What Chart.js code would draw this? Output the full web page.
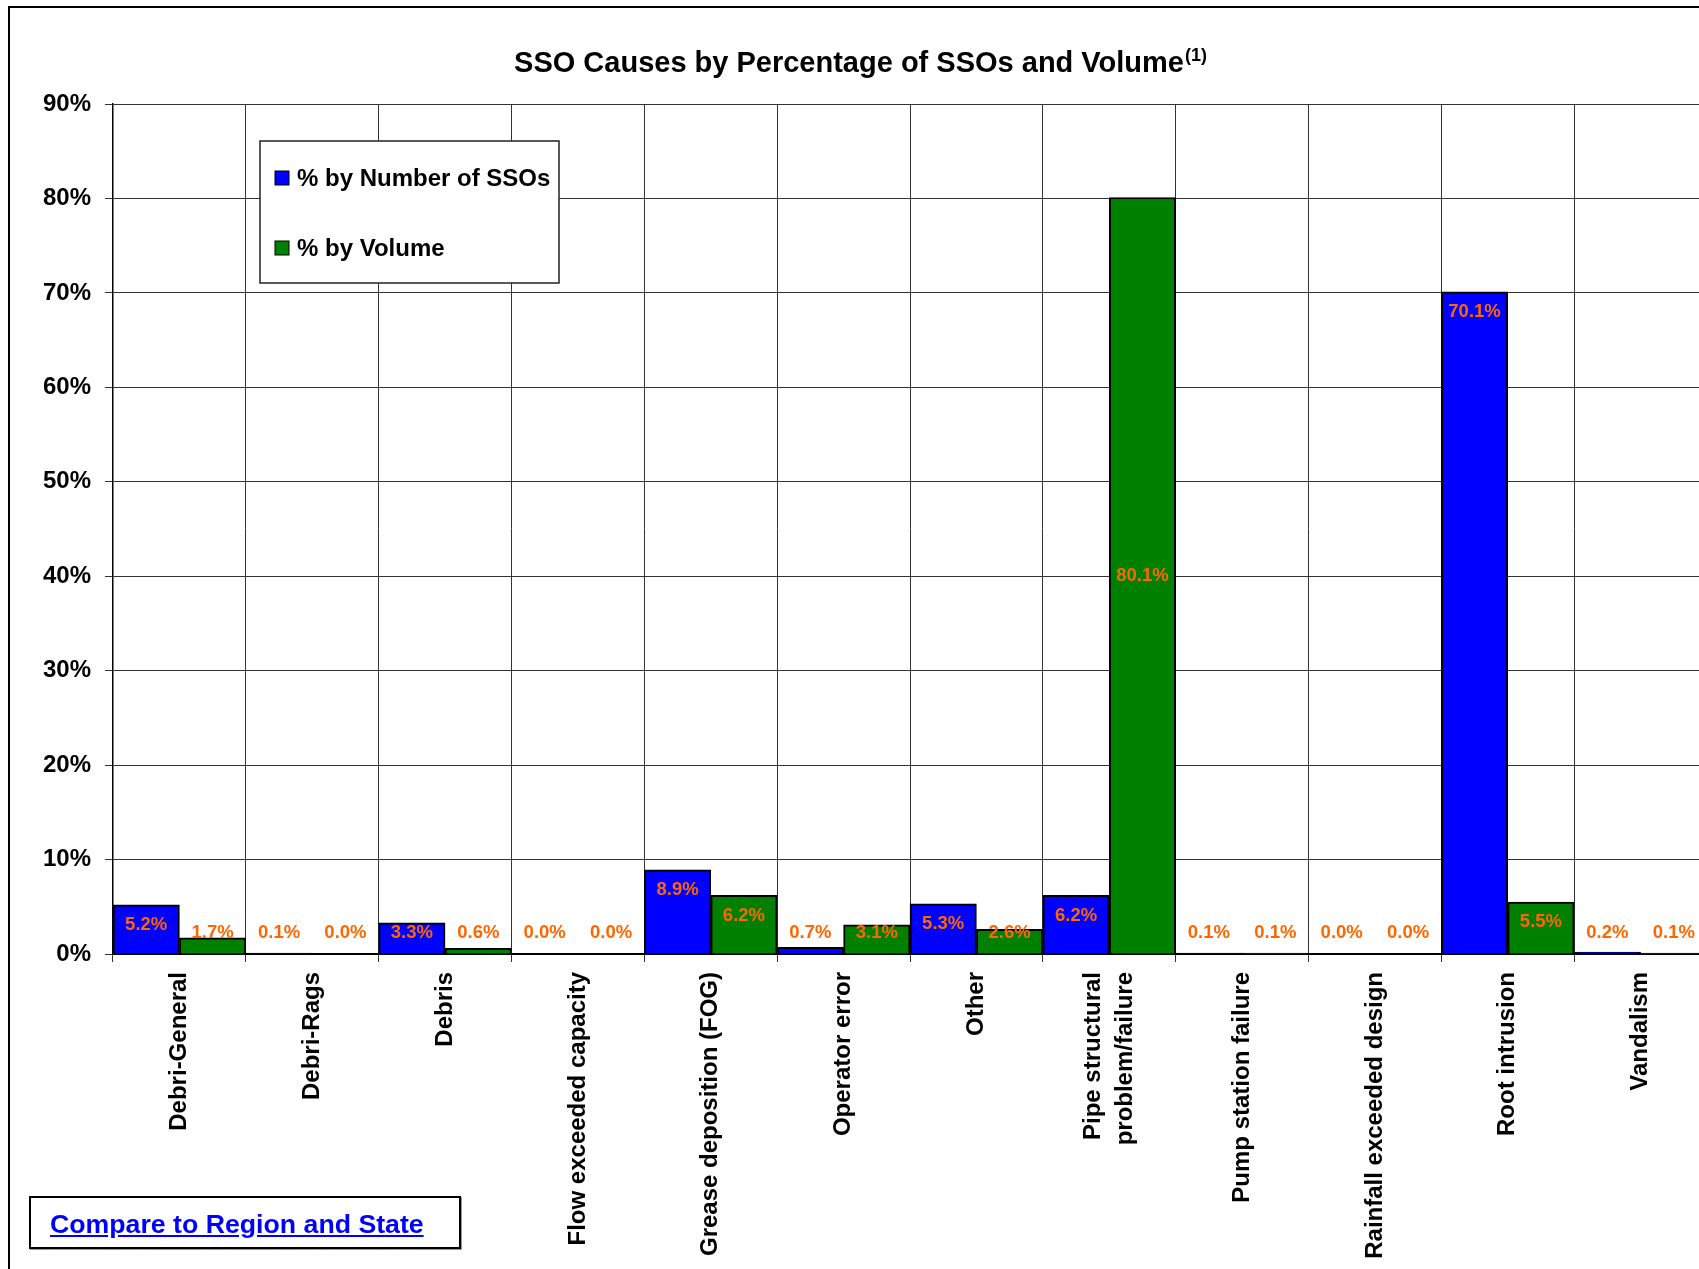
<!DOCTYPE html>
<html>
<head>
<meta charset="utf-8">
<title>SSO Causes by Percentage of SSOs and Volume</title>
<script src="https://cdn.jsdelivr.net/npm/chart.js@4.4.1/dist/chart.umd.min.js"></script>
<style>
  html, body { margin: 0; padding: 0; background: #fff; overflow: hidden; }
  #wrap { position: relative; width: 1699px; height: 1269px; overflow: hidden; }
  #ssoChart { position: absolute; left: 0; top: 0; }
  .compare-box {
    position: absolute; left: 29px; top: 1196px; width: 428px; height: 49px;
    border: 2px solid #000; box-shadow: 1px 1px 0 #999; background: #fff;
  }
  .compare-box a {
    position: absolute; left: 19px; top: 11px;
    font: bold 26.7px 'Liberation Sans', Arial, sans-serif;
    color: #0000ff; text-decoration: underline;
  }
</style>
</head>
<body>
<div id="wrap">
  <canvas id="ssoChart" width="1722" height="1290"></canvas>
  <div class="compare-box"><a href="#">Compare to Region and State</a></div>
</div>
<script>
// chart data
const categories = [
  'Debri-General', 'Debri-Rags', 'Debris', 'Flow exceeded capacity',
  'Grease deposition (FOG)', 'Operator error', 'Other',
  ['Pipe structural', 'problem/failure'], 'Pump station failure',
  'Rainfall exceeded design', 'Root intrusion', 'Vandalism'
];
const pctByNumber = [5.2, 0.1, 3.3, 0.0, 8.9, 0.7, 5.3, 6.2, 0.1, 0.0, 70.1, 0.2];
const pctByVolume = [1.7, 0.0, 0.6, 0.0, 6.2, 3.1, 2.6, 80.1, 0.1, 0.0, 5.5, 0.1];
const seriesNames = ['% by Number of SSOs', '% by Volume'];
const yMax = 90;
const yStep = 10;

const FONT = "'Liberation Sans', Arial, sans-serif";
const CHART_TITLE = 'SSO Causes by Percentage of SSOs and Volume';
const TITLE_NOTE = '(1)';

// white page + the frame line around the whole chart object
const framePlugin = {
  id: 'frame',
  beforeDraw(chart) {
    const ctx = chart.ctx;
    ctx.save();
    ctx.fillStyle = '#fff';
    ctx.fillRect(0, 0, chart.width, chart.height);
    ctx.strokeStyle = '#000';
    ctx.lineWidth = 2;
    ctx.beginPath();
    ctx.moveTo(9, chart.height);
    ctx.lineTo(9, 7);
    ctx.lineTo(chart.width - 8, 7);
    ctx.stroke();
    ctx.restore();

    // chart.js stacks rotated multi-line labels to one side of the tick,
    // shift them back so the block is centred on the category
    const xs = chart.scales.x;
    xs.getLabelItems(chart.chartArea).forEach((item) => {
      if (Array.isArray(item.label) && item.label.length > 1) {
        const lh = item.font.lineHeight;
        item.options.translation[0] -= (item.label.length - 1) * lh / 2;
      }
    });
  }
};

// title with the superscript footnote mark
const titlePlugin = {
  id: 'supTitle',
  afterDraw(chart) {
    const ctx = chart.ctx;
    ctx.save();
    ctx.fillStyle = '#000';
    ctx.textBaseline = 'alphabetic';
    ctx.textAlign = 'left';
    ctx.font = 'bold 29px ' + FONT;
    const w1 = ctx.measureText(CHART_TITLE).width;
    ctx.font = 'bold 18px ' + FONT;
    const w2 = ctx.measureText(TITLE_NOTE).width;
    const x0 = chart.width / 2 - (w1 + w2) / 2 - 1;
    ctx.font = 'bold 29px ' + FONT;
    ctx.fillText(CHART_TITLE, x0, 72);
    ctx.font = 'bold 18px ' + FONT;
    ctx.fillText(TITLE_NOTE, x0 + w1 + 1, 61);
    ctx.restore();
  }
};

// orange value labels inside the top of each bar
const valueLabelPlugin = {
  id: 'valueLabels',
  afterDatasetsDraw(chart) {
    const ctx = chart.ctx;
    const floor = chart.scales.y.getPixelForValue(0) - 21;
    ctx.save();
    ctx.font = 'bold 18.5px ' + FONT;
    ctx.fillStyle = '#ff6600';
    ctx.textAlign = 'center';
    ctx.textBaseline = 'middle';
    chart.data.datasets.forEach((ds, di) => {
      const meta = chart.getDatasetMeta(di);
      meta.data.forEach((bar, i) => {
        const v = ds.data[i];
        let y;
        if (v > 75) {
          y = (bar.y + bar.base) / 2; // the big one sits mid-bar in the original
        } else {
          y = Math.min(bar.y + 20, floor);
        }
        ctx.fillText(v.toFixed(1) + '%', bar.x, y);
      });
    });
    ctx.restore();
  }
};

// boxed legend sitting over the plot, top-left
const boxLegendPlugin = {
  id: 'boxLegend',
  afterDraw(chart) {
    const ctx = chart.ctx;
    const bx = 260, by = 141, bw = 299, bh = 142;
    ctx.save();
    ctx.fillStyle = '#fff';
    ctx.fillRect(bx, by, bw, bh);
    ctx.strokeStyle = '#222';
    ctx.lineWidth = 1.5;
    ctx.strokeRect(bx, by, bw, bh);
    ctx.font = 'bold 24px ' + FONT;
    ctx.textBaseline = 'middle';
    ctx.textAlign = 'left';
    chart.data.datasets.forEach((ds, i) => {
      const cy = 178 + i * 70;
      ctx.fillStyle = ds.backgroundColor;
      ctx.fillRect(275, cy - 7, 14, 14);
      ctx.strokeStyle = '#000';
      ctx.lineWidth = 1;
      ctx.strokeRect(275, cy - 7, 14, 14);
      ctx.fillStyle = '#000';
      ctx.fillText(ds.label, 297, cy + 1);
    });
    ctx.restore();
  }
};

const ctx = document.getElementById('ssoChart').getContext('2d');
new Chart(ctx, {
  type: 'bar',
  data: {
    labels: categories,
    datasets: [
      {
        label: seriesNames[0],
        data: pctByNumber,
        backgroundColor: '#0000ff',
        borderColor: '#000',
        borderWidth: 2,
        categoryPercentage: 1.0,
        barPercentage: 1.0,
      },
      {
        label: seriesNames[1],
        data: pctByVolume,
        backgroundColor: '#008000',
        borderColor: '#000',
        borderWidth: 2,
        categoryPercentage: 1.0,
        barPercentage: 1.0,
      },
    ],
  },
  options: {
    responsive: false,
    animation: false,
    events: [],
    layout: { padding: { top: 104, right: 15, left: 0, bottom: 0 } },
    plugins: {
      legend: { display: false },
      title: { display: false },
      tooltip: { enabled: false },
    },
    scales: {
      x: {
        offset: true,
        grid: { offset: true, color: '#333', lineWidth: 1, tickLength: 8 },
        border: { color: '#000', width: 2 },
        ticks: {
          autoSkip: false,
          maxRotation: 90,
          minRotation: 90,
          padding: 10,
          color: '#000',
          font: { family: FONT, size: 24, weight: 'bold', lineHeight: 1.35 },
        },
        afterFit(scale) { scale.height = 1290 - 954; },
      },
      y: {
        min: 0,
        max: yMax,
        grid: { color: '#333', lineWidth: 1, tickLength: 8 },
        border: { color: '#000', width: 1.5 },
        ticks: {
          stepSize: yStep,
          padding: 14,
          color: '#000',
          font: { family: FONT, size: 24, weight: 'bold' },
          callback: (v) => v + '%',
        },
        afterFit(scale) { scale.width = 113; },
      },
    },
  },
  plugins: [framePlugin, valueLabelPlugin, boxLegendPlugin, titlePlugin],
});
</script>
</body>
</html>
